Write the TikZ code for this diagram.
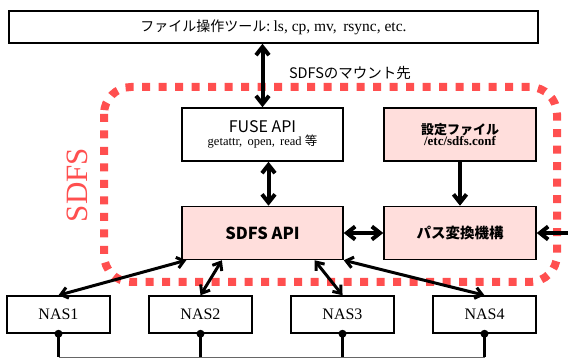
\documentclass[tikz,border=0pt]{standalone}
\usepackage{fontspec}
\setmainfont{Liberation Serif}
\newfontfamily\jp{Noto Sans CJK JP}
\usetikzlibrary{arrows.meta,calc}
\tikzset{>={Straight Barb[length=3pt 1.3,width=5pt 2]}}
\definecolor{sdfsred}{HTML}{FF4F4F}
\definecolor{sdfspink}{HTML}{FFDEDC}

\begin{document}
\begin{tikzpicture}[x=1pt,y=-1pt,
  box/.style={draw,line width=1.5pt,minimum width=161pt,minimum height=53pt,inner sep=0pt,align=center},
  pinkbox/.style={box,fill=sdfspink,minimum width=152pt},
  nasbox/.style={draw,line width=1.5pt,minimum width=103pt,minimum height=37pt,inner sep=0pt,font=\fontsize{16}{18}\selectfont},
  link/.style={line width=3pt,<->}]
  \useasboundingbox (0,0) rectangle (568,358);

  % SDFS region
  \draw[sdfsred,line width=8pt,dash pattern=on 8pt off 8.5pt,rounded corners=27pt] (104,87) rectangle (557,282);
  \node[rotate=90,text=sdfsred,font=\fontsize{31}{31}\selectfont] (sdfslabel) at (77.5,185) {SDFS};

  % Boxes
  \node[draw,line width=1.5pt,minimum width=529pt,minimum height=32pt,inner sep=0pt] (tools) at (273.5,27)
    {{\jp\fontsize{14}{15}\selectfont ファイル操作ツール:} \fontsize{15.5}{17}\selectfont ls, cp, mv,\, rsync, etc.};
  \node[font=\jp\fontsize{14.5}{16}\selectfont] (mount) at (350,73) {SDFSのマウント先};
  \node[box] (fuse) at (262.5,134.5)
    {{\jp\fontsize{16}{18}\selectfont FUSE API}\\[1pt]{\fontsize{12.5}{13}\selectfont getattr,\, open,\, read {\jp 等}}};
  \node[pinkbox] (conf) at (460,134.5)
    {{\jp\bfseries\fontsize{13}{15}\selectfont 設定ファイル}\\[-1pt]{\bfseries\fontsize{13}{14}\selectfont /etc/sdfs.conf}};
  \node[box,fill=sdfspink] (sdfsapi) at (262.5,233) {\jp\bfseries\fontsize{16.5}{18}\selectfont SDFS API};
  \node[pinkbox] (pass) at (460,233) {\jp\bfseries\fontsize{14.5}{16}\selectfont パス変換機構};

  \node[nasbox] (nas1) at (58.5,314.5) {NAS1};
  \node[nasbox] (nas2) at (200.5,314.5) {NAS2};
  \node[nasbox] (nas3) at (342.5,314.5) {NAS3};
  \node[nasbox] (nas4) at (484.5,314.5) {NAS4};

  % Connectors
  \draw[line width=4pt,<->] (tools.south -| fuse.north) -- (fuse.north);
  \draw[line width=4pt,<->] ([xshift=6pt]fuse.south) -- ([xshift=6pt]sdfsapi.north);
  \draw[line width=4pt,->] (conf.south) -- (pass.north);
  \draw[line width=4pt,<->] (sdfsapi.east) -- (pass.west);
  \coordinate (outside) at (568,233);
  \draw[line width=4pt,->] (outside) -- (pass.east);

  \draw[link] ([xshift=5pt]sdfsapi.south west) -- (nas1.north);
  \draw[link] ($(sdfsapi.south west)!.25!(sdfsapi.south east)$) -- (nas2.north);
  \draw[link] ($(sdfsapi.south west)!.82!(sdfsapi.south east)$) -- (nas3.north);
  \draw[link] (sdfsapi.south east) -- (nas4.north);

  % Network
  \coordinate (busl) at (58.5,357);
  \coordinate (busr) at (484.5,357);
  \draw[black!60,line width=1pt] (busl) -- (busr);
  \foreach \n in {nas1,nas2,nas3,nas4} {
    \fill (\n.south) circle (4pt);
    \draw[line width=3.5pt] (\n.south) -- (\n.south |- busl);
  }
\end{tikzpicture}
\end{document}
